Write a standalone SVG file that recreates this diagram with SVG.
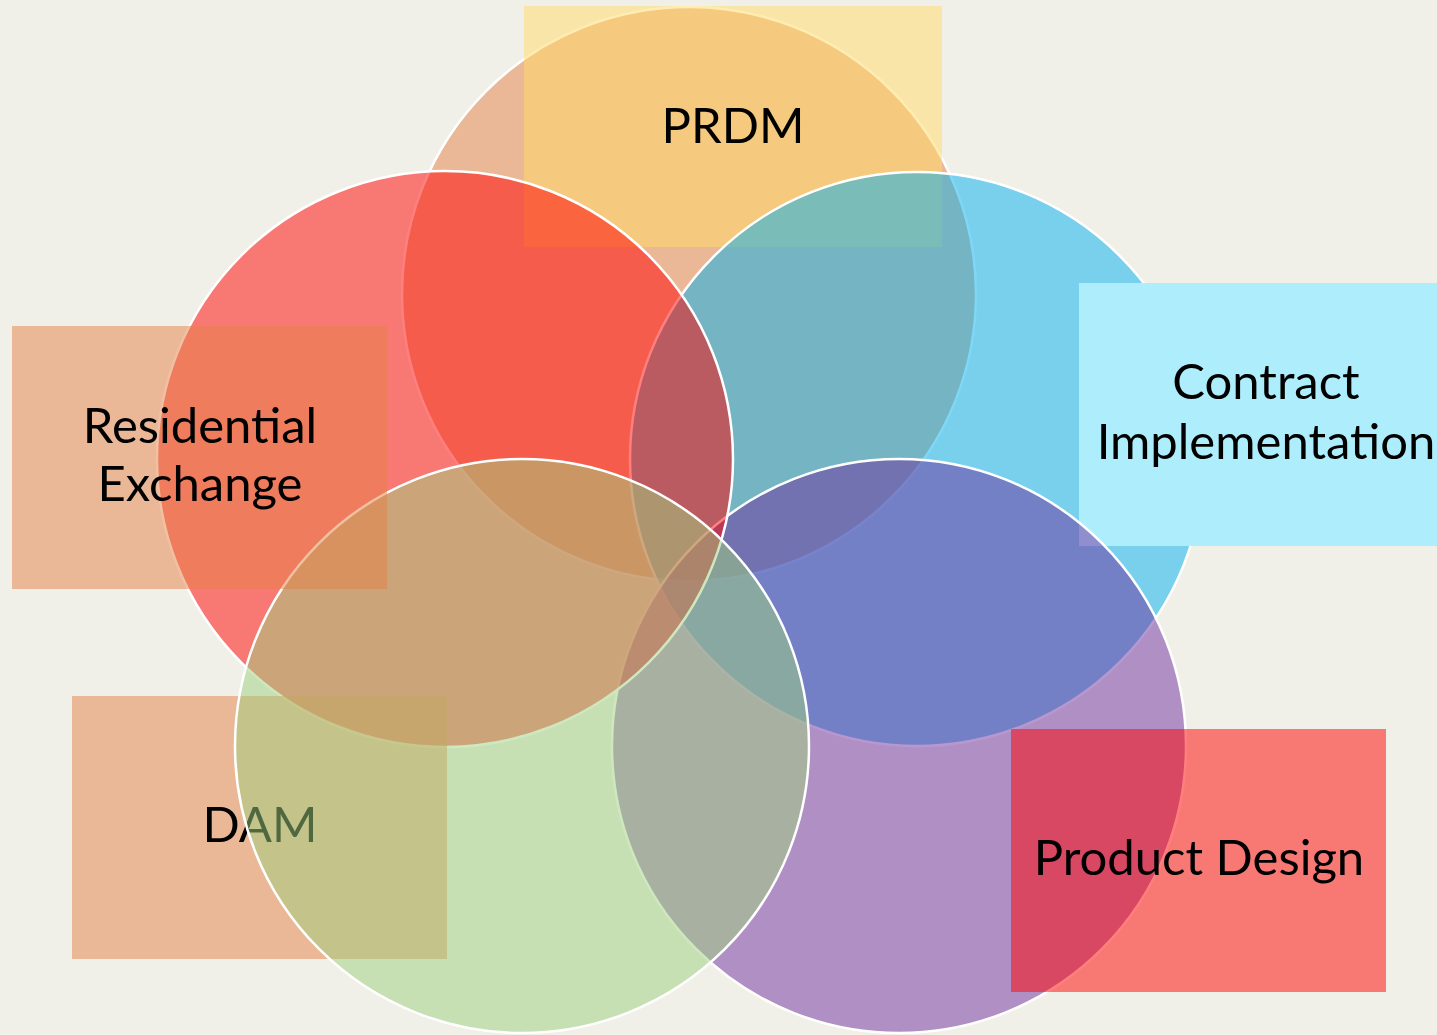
<svg xmlns="http://www.w3.org/2000/svg" width="1437" height="1035" viewBox="0 0 1437 1035">
  <style>
    .circ { stroke: #FFFFFF; stroke-width: 2.5; fill-opacity: 0.5; }
    .lbl { font-family: Lato, "Liberation Sans", sans-serif; font-size: 49px; fill: #000000; text-anchor: middle; }
    .half { fill-opacity: 0.5; }
  </style>
  <rect x="0" y="0" width="1437" height="1035" fill="#F0F0E8"/>

  <g id="circle-top">
    <circle class="circ" cx="689" cy="294" r="287" fill="#E48046"/>
  </g>

  <g id="node-prdm">
    <rect class="half" x="524" y="6" width="418" height="241" fill="#FFD966"/>
    <text class="lbl" x="733" y="143">PRDM</text>
  </g>

  <g id="circle-right">
    <circle class="circ" cx="917" cy="459" r="287" fill="#00B0F0"/>
  </g>

  <g id="node-contract">
    <rect x="1079" y="283" width="375" height="263" fill="#AEEEFC"/>
    <text class="lbl" x="1266" y="399">Contract</text>
    <text class="lbl" x="1266" y="459">Implementation</text>
  </g>

  <g id="circle-bottom-right">
    <circle class="circ" cx="899" cy="746" r="287" fill="#7030A0"/>
  </g>

  <g id="node-product-design">
    <rect class="half" x="1011" y="729" width="375" height="263" fill="#FF0000"/>
    <text class="lbl" x="1199" y="875">Product Design</text>
  </g>

  <g id="circle-left">
    <circle class="circ" cx="445" cy="459" r="288" fill="#FF0000"/>
  </g>

  <g id="node-dam">
    <rect class="half" x="72" y="696" width="375" height="263" fill="#E48046"/>
    <text class="lbl" x="260" y="842">DAM</text>
  </g>

  <g id="circle-bottom-left">
    <circle class="circ" cx="522" cy="746" r="287" fill="#9ED07E"/>
  </g>

  <g id="node-residential">
    <rect class="half" x="12" y="326" width="375" height="263" fill="#E48046"/>
    <text class="lbl" x="200" y="443">Residential</text>
    <text class="lbl" x="200" y="501">Exchange</text>
  </g>

  <g id="connectors"/>
</svg>
